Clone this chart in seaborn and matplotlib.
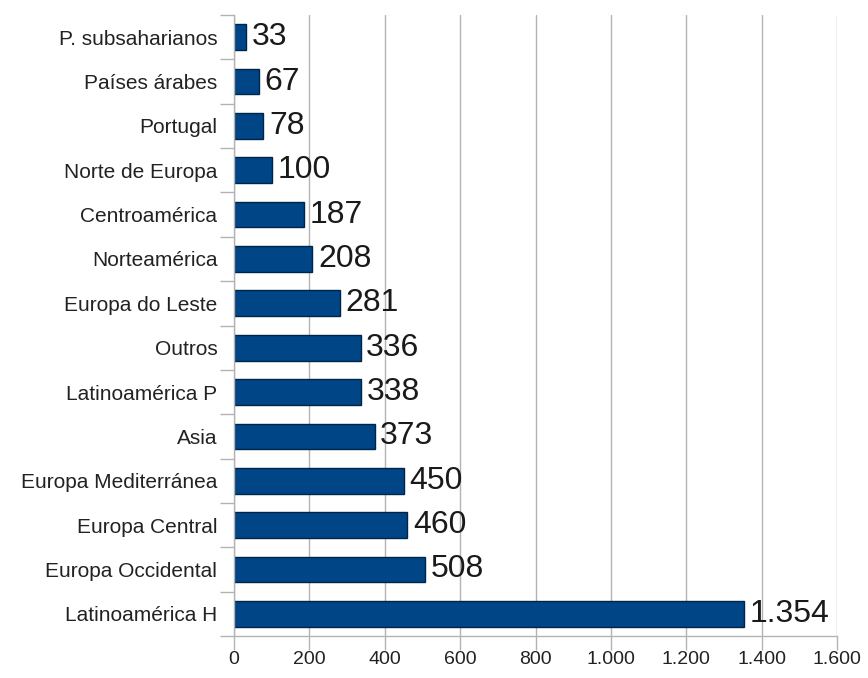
import matplotlib
matplotlib.use("Agg")
import matplotlib.pyplot as plt
import seaborn as sns
import pandas as pd
import numpy as np

categories = ["P. subsaharianos", "Países árabes", "Portugal", "Norte de Europa",
              "Centroamérica", "Norteamérica", "Europa do Leste", "Outros",
              "Latinoamérica P", "Asia", "Europa Mediterránea", "Europa Central",
              "Europa Occidental", "Latinoamérica H"]
values = [33, 67, 78, 100, 187, 208, 281, 336, 338, 373, 450, 460, 508, 1354]
xticks = [0, 200, 400, 600, 800, 1000, 1200, 1400, 1600]

sns.set_theme(style="white")
plt.rcParams['font.family'] = ['Liberation Sans', 'DejaVu Sans']

df = pd.DataFrame({"cat": categories, "val": values})

fig = plt.figure(figsize=(8.68, 6.78), dpi=100)
ax = fig.add_axes([0.2696, 0.0619, 0.6947, 0.9160])

sns.barplot(data=df, x="val", y="cat", orient="h", color="#004586",
            saturation=1, width=0.58, edgecolor="#00254a", linewidth=1.0, ax=ax)

def fmt(v):
    return f"{v:,}".replace(",", ".")

ax.bar_label(ax.containers[0], labels=[fmt(v) for v in values], padding=4,
             fontsize=23, color="#1a1a1a")

ax.set_xlim(0, 1600)
ax.set_ylim(len(categories) - 0.5, -0.5)
ax.set_xticks(xticks)
ax.set_xticklabels([fmt(v) for v in xticks], fontsize=14, color="#222222")
ax.set_yticks(range(len(categories)))
ax.set_yticklabels(categories, fontsize=15, color="#222222")
ax.set_yticks(np.arange(-0.5, len(categories), 1), minor=True)
ax.tick_params(axis="y", which="major", length=0, pad=12)
ax.tick_params(axis="y", which="minor", length=10, color="#b3b3b3", width=1, direction="out", left=True)
ax.tick_params(axis="x", which="major", length=10, color="#b3b3b3", width=1, direction="out", bottom=True, pad=1)
ax.set_xlabel("")
ax.set_ylabel("")
ax.grid(axis="x", color="#b3b3b3", linewidth=1)
ax.set_axisbelow(True)
for s in ["top", "right"]:
    ax.spines[s].set_visible(False)
for s in ["left", "bottom"]:
    ax.spines[s].set_color("#b3b3b3")
    ax.spines[s].set_linewidth(1)

fig.savefig("out.png", dpi=100)
